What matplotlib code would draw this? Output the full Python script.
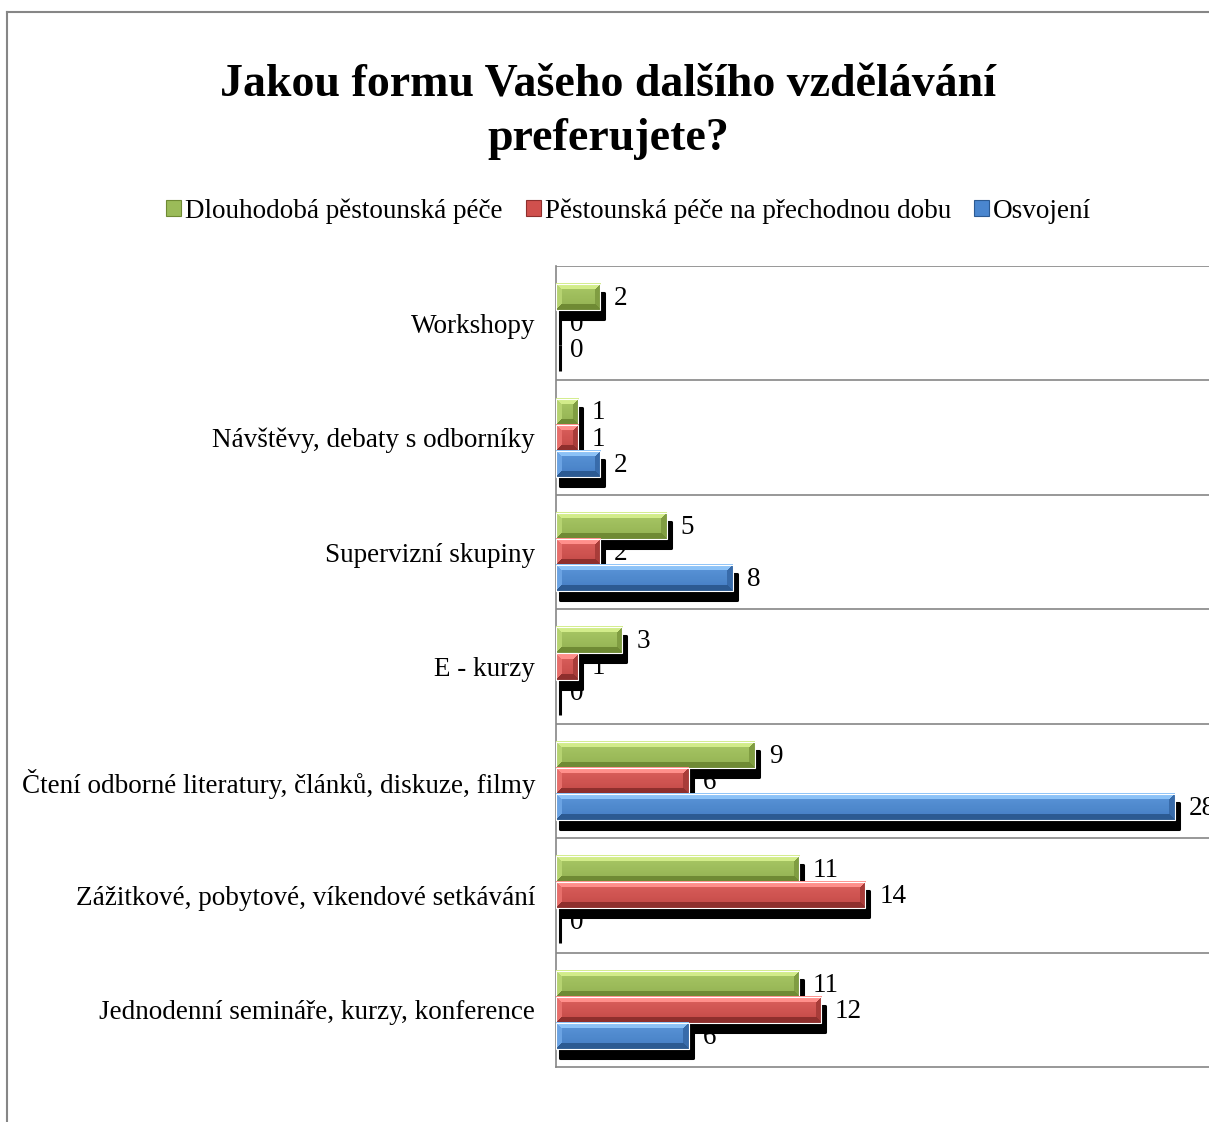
import numpy as np
import matplotlib
matplotlib.use("Agg")
import matplotlib.pyplot as plt
import matplotlib.transforms as mtransforms
from matplotlib.patches import Rectangle, Patch
from matplotlib.lines import Line2D

plt.rcParams['font.family'] = ['Liberation Serif', 'DejaVu Serif']

# data (bottom to top)
categories = ["Jednodenní semináře, kurzy, konference",
              "Zážitkové, pobytové, víkendové setkávání",
              "Čtení odborné literatury, článků, diskuze, filmy",
              "E - kurzy",
              "Supervizní skupiny",
              "Návštěvy, debaty s odborníky",
              "Workshopy"]
dlouhodoba = [11, 11, 9, 3, 5, 1, 2]
prechodna = [12, 14, 6, 1, 2, 1, 0]
osvojeni = [6, 0, 28, 0, 8, 2, 0]

series_names = ["Dlouhodobá pěstounská péče",
                "Pěstounská péče na přechodnou dobu",
                "Osvojení"]
series_vals = [dlouhodoba, prechodna, osvojeni]
# (face, light, dark)
series_cols = [("#9bbb59", "#d2ec8a", "#6f8a34"),
               ("#d0504d", "#ff8f8b", "#8e2f2d"),
               ("#4a86cf", "#8cc2f7", "#2c5a92")]

W, H, DPI = 1209, 1122, 100
fig = plt.figure(figsize=(W / DPI, H / DPI), dpi=DPI)

ax_left, ax_bottom, ax_top = 556 / W, (H - 1067) / H, (H - 266) / H
ax_right = 1219 / W
ax = fig.add_axes([ax_left, ax_bottom, ax_right - ax_left, ax_top - ax_bottom])
xmax = 30
px_per_unit = (ax_right - ax_left) * W / xmax

bar_h = 0.228
bar_px = 26
fs = 19.5


def hexrgb(c):
    return np.array(matplotlib.colors.to_rgb(c))


def bevel_img(nx, ny, face, light, dark, b=6):
    face, light, dark = hexrgb(face), hexrgb(light), hexrgb(dark)
    ys, xs = np.mgrid[0:ny, 0:nx]
    dist = np.stack([ys, ny - 1 - ys, xs, nx - 1 - xs])
    which = np.argmin(dist, axis=0)
    d = np.min(dist, axis=0)
    t = (ys / max(ny - 1, 1))[..., None]
    img = face * (1 - 0.3 * (1 - t)) + light * 0.3 * (1 - t)
    img = img * (1 - 0.2 * t) + dark * 0.2 * t
    cols = [light, dark, 0.5 * face + 0.5 * light, 0.4 * face + 0.6 * dark]
    edge = d < b
    for k in range(4):
        m = edge & (which == k)
        img[m] = cols[k]
    return img


shadow_tf = ax.transData + mtransforms.ScaledTranslation(4 / DPI, -9 / DPI, fig.dpi_scale_trans)
offsets = [bar_h, 0, -bar_h]
y = np.arange(len(categories))

for k, (vals, cols) in enumerate(zip(series_vals, series_cols)):
    for i, v in enumerate(vals):
        yc = y[i] + offsets[k]
        y0 = yc - bar_h / 2
        ax.add_patch(Rectangle((0, y0), v, bar_h, facecolor="black", edgecolor="black",
                               lw=2.2, joinstyle="round", transform=shadow_tf,
                               zorder=3 + 2 * k, clip_on=False))
        if v > 0:
            nx = max(int(round(v * px_per_unit)), 2)
            ax.imshow(bevel_img(nx, bar_px, *cols), extent=(0, v, y0, y0 + bar_h),
                      aspect="auto", interpolation="nearest", zorder=4 + 2 * k)
            ax.add_patch(Rectangle((0, y0), v, bar_h, facecolor="none", edgecolor="white",
                                   lw=0.8, zorder=4.5 + 2 * k))
        ax.annotate(str(v), (v, yc), xytext=(10, -1), textcoords="offset points",
                    ha="left", va="center", fontsize=fs, zorder=2, annotation_clip=False)

for b in np.arange(0.5, len(categories) + 0.5, 1):
    ax.axhline(b, color="#868686", lw=1.2, zorder=1)

ax.set_xlim(0, xmax)
ax.set_ylim(-0.5, len(categories) - 0.5)
ax.set_aspect("auto")
ax.set_xticks([])
ax.set_yticks(y)
ax.set_yticklabels(categories, fontsize=fs)
ax.tick_params(axis="y", length=0, pad=15)
for s in ["top", "right"]:
    ax.spines[s].set_visible(False)
for s in ["left", "bottom"]:
    ax.spines[s].set_color("#868686")
    ax.spines[s].set_linewidth(1.2)

fig.text(0.503, 0.9, "Jakou formu Vašeho dalšího vzdělávání\npreferujete?",
         ha="center", va="center", fontsize=33, fontweight="bold", linespacing=1.38)

handles = [Patch(facecolor=c[0], edgecolor=c[2], lw=0.8) for c in series_cols]
fig.legend(handles, series_names, loc="center", bbox_to_anchor=(0.52, 1 - 211 / H),
           ncol=3, frameon=False, fontsize=fs, handlelength=0.55, handleheight=0.55,
           handletextpad=0.15, columnspacing=0.85)

# outer chart frame (cut off at right and bottom)
fig.add_artist(Line2D([7 / W, 7 / W], [0, 1 - 12 / H], color="#868686", lw=1.5))
fig.add_artist(Line2D([7 / W, 1], [1 - 12 / H, 1 - 12 / H], color="#868686", lw=1.5))

fig.savefig("out.png", dpi=DPI)
